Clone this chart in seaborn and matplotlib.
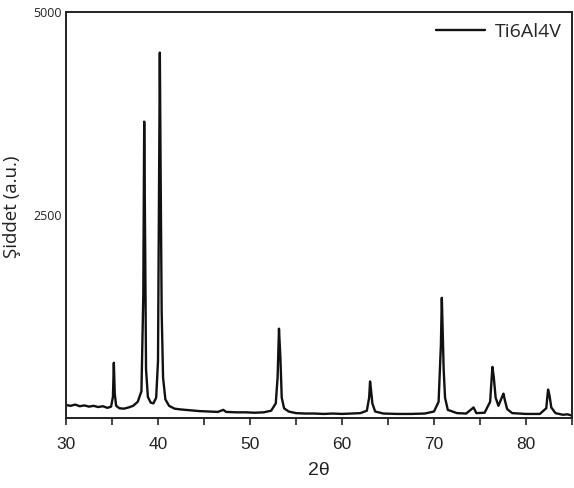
import pandas as pd
import seaborn as sns
import matplotlib.pyplot as plt
from matplotlib.ticker import MultipleLocator, FixedLocator

# XRD pattern of Ti6Al4V
two_theta = [
    30.0, 30.5, 31.0, 31.5, 32.0, 32.5, 33.0, 33.5, 34.0, 34.5, 34.9,
    35.1, 35.2, 35.3, 35.45, 35.8, 36.3, 36.8, 37.3, 37.8, 38.2,
    38.4, 38.5, 38.6, 38.7, 38.9, 39.2, 39.5, 39.8, 40.0, 40.1,
    40.2, 40.3, 40.4, 40.55, 40.8, 41.2, 41.8, 42.5, 43.5, 44.5,
    45.5, 46.5, 47.1, 47.4, 48.5, 49.5, 50.5, 51.5, 52.3, 52.8,
    53.0, 53.15, 53.3, 53.45, 53.7, 54.2, 55.0, 56.0, 57.0, 58.0,
    59.0, 60.0, 61.0, 62.0, 62.7, 62.95, 63.05, 63.15, 63.3, 63.6,
    64.5, 66.0, 67.5, 69.0, 70.0, 70.5, 70.75, 70.85, 70.95, 71.05,
    71.2, 71.5, 72.5, 73.5, 74.3, 74.6, 75.5, 76.1, 76.35, 76.5,
    76.7, 77.0, 77.4, 77.55, 77.7, 77.95, 78.5, 80.0, 81.5, 82.2,
    82.4, 82.55, 82.75, 83.2, 84.0, 84.5, 85.0,
]
intensity = [
    160, 150, 165, 145, 155, 140, 150, 135, 145, 125, 140,
    260, 680, 300, 150, 120, 115, 130, 150, 200, 330,
    1500, 3650, 2200, 600, 260, 190, 180, 250, 700, 2600,
    4500, 2800, 1300, 500, 230, 150, 115, 105, 95, 85,
    80, 75, 100, 75, 70, 70, 65, 70, 90, 180,
    500, 1100, 750, 250, 120, 80, 60, 55, 55, 50,
    55, 50, 55, 60, 90, 250, 450, 350, 180, 80,
    55, 50, 50, 55, 80, 200, 900, 1480, 1050, 600,
    250, 100, 60, 55, 130, 60, 65, 200, 630, 500,
    250, 150, 260, 300, 220, 110, 60, 50, 50, 120,
    350, 280, 130, 60, 40, 45, 30,
]

df = pd.DataFrame({"2theta": two_theta, "intensity": intensity})

sns.set_style("white")
plt.rcParams['font.family'] = ['Open Sans', 'DejaVu Sans']

fig = plt.figure(figsize=(5.74, 4.88), dpi=100)
ax = fig.add_axes([66 / 574, 1 - 418 / 488, (572 - 66) / 574, (418 - 12) / 488])

sns.lineplot(data=df, x="2theta", y="intensity", ax=ax, color="#111111",
             linewidth=1.7, sort=False, label="Ti6Al4V")

ax.set_xlim(30, 85)
ax.set_ylim(0, 5000)

ax.xaxis.set_major_locator(MultipleLocator(10))
ax.xaxis.set_minor_locator(MultipleLocator(5))
ax.tick_params(axis="x", which="both", direction="out", length=5, width=1.2,
               color="#222222", bottom=True, pad=9, labelsize=12.5,
               labelcolor="#222222")
for lbl in ax.get_xticklabels():
    lbl.set_family("Liberation Sans")
ax.yaxis.set_major_locator(FixedLocator([2500, 5000]))
ax.tick_params(axis="y", length=0, pad=3, labelsize=9, labelcolor="#222222")

for s in ax.spines.values():
    s.set_color("#222222")
    s.set_linewidth(1.4)

ax.set_xlabel("2θ", fontsize=14, color="#222222", labelpad=7,
              family="Liberation Sans")
ax.set_ylabel("Şiddet (a.u.)", fontsize=13.5, color="#222222", labelpad=2)
ax.yaxis.set_label_coords(-0.088, 0.52)

ax.legend(loc="upper right", frameon=False, fontsize=14, handlelength=2.5,
          handletextpad=0.5, borderaxespad=0.15)

fig.savefig("out.png", dpi=100)
